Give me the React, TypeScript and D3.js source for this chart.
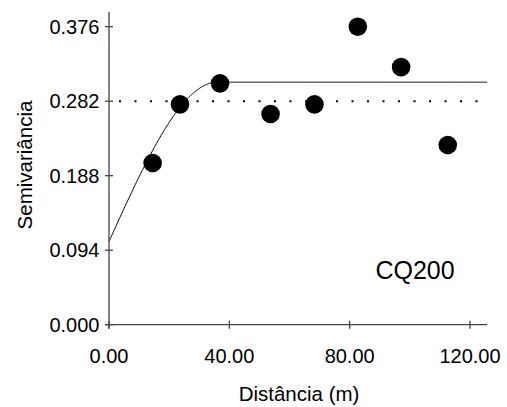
import React from "react";
import * as d3 from "d3";

const distances = [14.5, 23.6, 36.9, 53.7, 68.3, 82.7, 97.1, 112.6];
const semivariances = [0.204, 0.278, 0.3045, 0.2658, 0.278, 0.376, 0.325, 0.2267];
const xTicks = [0, 40, 80, 120];
const yTicks = [0, 0.094, 0.188, 0.282, 0.376];
const sampleVariance = 0.282;
const nugget = 0.105;
const sill = 0.306;
const range = 36;
const xMax = 125.7;
const yMax = 0.395;
const label = "CQ200";

export default function App() {
  const W = 507, H = 407;
  const x = d3.scaleLinear().domain([0, 120]).range([109, 470]);
  const y = d3.scaleLinear().domain([0, 0.376]).range([324.7, 26.7]);
  const sph = (h: number) =>
    h >= range ? sill : nugget + (sill - nugget) * (1.5 * (h / range) - 0.5 * Math.pow(h / range, 3));
  const hs = d3.range(0, xMax + 0.001, 0.25).concat([xMax]);
  const line = d3.line<number>().x((h) => x(h)).y((h) => y(sph(h)));
  const font = "'Liberation Sans', Arial, Helvetica, sans-serif";
  const axisColor = "#444";
  return (
    <svg width={W} height={H} style={{ position: "absolute", left: 0, top: 0, background: "#fff" }} fontFamily={font}>
      <rect width={W} height={H} fill="#fff" />
      <line x1={x(0)} x2={x(xMax)} y1={y(sampleVariance)} y2={y(sampleVariance)} stroke="#000" strokeWidth={2} strokeDasharray="2 13.5" strokeDashoffset={-10} />
      <path d={line(hs) || ""} fill="none" stroke="#000" strokeWidth={1} />
      {distances.map((d, i) => (
        <circle key={i} cx={x(d)} cy={y(semivariances[i])} r={9.3} fill="#000" />
      ))}
      <line x1={x(0)} x2={x(0)} y1={y(yMax)} y2={y(0) + 4} stroke={axisColor} strokeWidth={1.3} />
      <line x1={x(0) - 4} x2={x(xMax)} y1={y(0)} y2={y(0)} stroke={axisColor} strokeWidth={1.3} />
      {yTicks.map((t) => (
        <g key={"y" + t}>
          <line x1={x(0) - 4} x2={x(0) + 4} y1={y(t)} y2={y(t)} stroke={axisColor} strokeWidth={1.3} />
          <text x={x(0) - 9.5} y={y(t) + 7} textAnchor="end" fontSize={20} fill="#000">
            {d3.format(".3f")(t)}
          </text>
        </g>
      ))}
      {xTicks.map((t) => (
        <g key={"x" + t}>
          <line x1={x(t)} x2={x(t)} y1={y(0) - 4} y2={y(0) + 4} stroke={axisColor} strokeWidth={1.3} />
          <text x={x(t)} y={362.5} textAnchor="middle" fontSize={20} fill="#000">
            {d3.format(".2f")(t)}
          </text>
        </g>
      ))}
      <text x={299} y={400.5} textAnchor="middle" fontSize={20.5} fill="#000">Distância (m)</text>
      <text transform={`translate(31.5,165) rotate(-90)`} textAnchor="middle" fontSize={20.5} fill="#000">Semivariância</text>
      <text x={415} y={278.5} textAnchor="middle" fontSize={25} fill="#000">{label}</text>
    </svg>
  );
}
